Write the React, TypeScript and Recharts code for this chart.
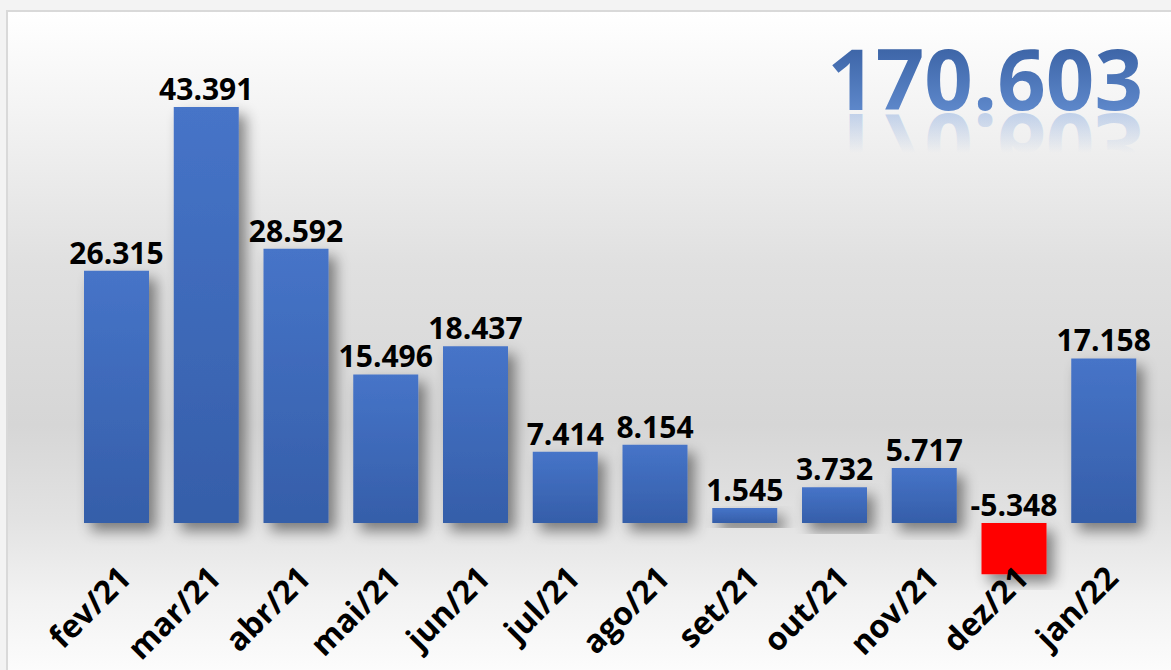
import React from 'react';
import { BarChart, Bar, XAxis, YAxis, Cell, LabelList } from 'recharts';

const categories = ['fev/21', 'mar/21', 'abr/21', 'mai/21', 'jun/21', 'jul/21', 'ago/21', 'set/21', 'out/21', 'nov/21', 'dez/21', 'jan/22'];
const values = [26315, 43391, 28592, 15496, 18437, 7414, 8154, 1545, 3732, 5717, -5348, 17158];
const totalLabel = '170.603';

const data = categories.map((c, i) => ({ month: c, value: values[i] }));

const FONT = '"Open Sans", "Noto Sans", sans-serif';

function fmt(v: number): string {
  const neg = v < 0;
  const s = Math.abs(Math.round(v)).toString();
  const parts: string[] = [];
  for (let i = s.length; i > 0; i -= 3) parts.unshift(s.slice(Math.max(0, i - 3), i));
  return (neg ? '-' : '') + parts.join('.');
}

const Tick = (props: any) => {
  const { x, y, payload } = props;
  return (
    <g transform={`translate(${x + 16},${y - 10})`}>
      <text transform="rotate(-45)" textAnchor="end" fontSize={32} fontWeight={700} fontFamily={FONT} fill="#000">
        {payload.value}
      </text>
    </g>
  );
};

const ValueLabel = (props: any) => {
  const { x, y, width, height, value } = props;
  const top = Math.min(y, y + height);
  return (
    <text x={x + width / 2} y={top - 7} textAnchor="middle" fontSize={30} fontWeight={700} fontFamily={FONT} fill="#000">
      {fmt(value)}
    </text>
  );
};

export default function App() {
  return (
    <div style={{ position: 'absolute', left: 0, top: 0, width: 1171, height: 670, background: '#f3f3f3', overflow: 'hidden' }}>
      <div
        style={{
          position: 'absolute',
          left: 6,
          top: 10,
          width: 1170,
          height: 670,
          border: '2px solid #d9d9d9',
          boxSizing: 'border-box',
          background: 'linear-gradient(to bottom, #ffffff 0%, #f4f4f4 14%, #e0e0e0 38%, #d6d6d6 62%, #e2e2e2 76%, #f2f2f2 88%, #fdfdfd 100%)',
        }}
      />
      <div style={{ position: 'absolute', left: 0, top: 0 }}>
        <BarChart width={1171} height={670} data={data} margin={{ top: 82, right: 22, bottom: 79, left: 72 }} barCategoryGap={0}>
          <defs>
            <linearGradient id="barGrad" x1="0" y1="0" x2="0" y2="1">
              <stop offset="0%" stopColor="#4674c8" />
              <stop offset="100%" stopColor="#355ea9" />
            </linearGradient>
            <filter id="shadow" x="-30%" y="-10%" width="170%" height="140%">
              <feDropShadow dx="7" dy="8" stdDeviation="7" floodColor="#000" floodOpacity="0.45" />
            </filter>
          </defs>
          <XAxis dataKey="month" height={1} axisLine={false} tickLine={false} tickSize={0} tickMargin={0} interval={0} tick={<Tick />} />
          <YAxis hide domain={[-7000, 46000]} allowDataOverflow />
          <Bar dataKey="value" barSize={65} isAnimationActive={false} filter="url(#shadow)">
            {data.map((d, i) => (
              <Cell key={i} fill={d.value < 0 ? '#ff0000' : 'url(#barGrad)'} />
            ))}
            <LabelList dataKey="value" content={<ValueLabel />} />
          </Bar>
        </BarChart>
      </div>
      <svg width={1171} height={670} style={{ position: 'absolute', left: 0, top: 0, pointerEvents: 'none' }}>
        <defs>
          <linearGradient id="titleGrad" x1="0" y1="0" x2="0" y2="1">
            <stop offset="0%" stopColor="#2e5597" />
            <stop offset="100%" stopColor="#6a95d8" />
          </linearGradient>
          <linearGradient id="reflGrad" x1="0" y1="0" x2="0" y2="1">
            <stop offset="0%" stopColor="#6a95d8" stopOpacity={0} />
            <stop offset="45%" stopColor="#6a95d8" stopOpacity={0} />
            <stop offset="100%" stopColor="#6a95d8" stopOpacity={0.6} />
          </linearGradient>
        </defs>
        <text x={1143} y={110} textAnchor="end" fontSize={85} fontWeight={700} fontFamily={FONT} fill="url(#titleGrad)">
          {totalLabel}
        </text>
        <text transform="translate(0,224) scale(1,-1)" x={1143} y={110} textAnchor="end" fontSize={85} fontWeight={700} fontFamily={FONT} fill="url(#reflGrad)">
          {totalLabel}
        </text>
      </svg>
    </div>
  );
}
